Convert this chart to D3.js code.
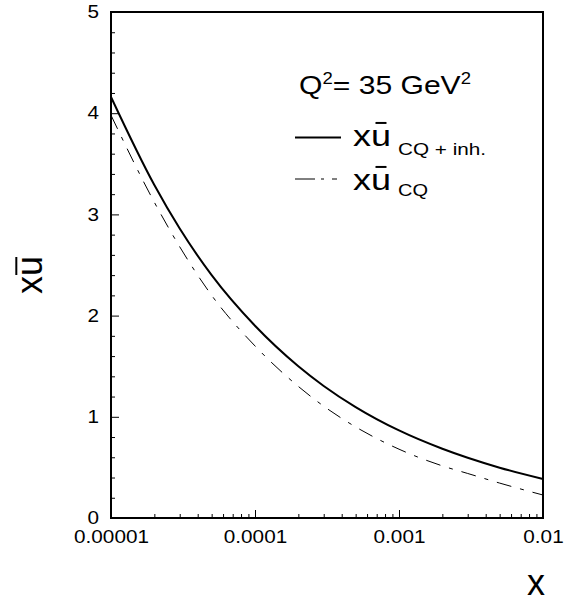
<!DOCTYPE html>
<html>
<head>
<meta charset="utf-8">
<script src="https://cdn.jsdelivr.net/npm/d3@7"></script>
<style>
  body { margin: 0; background: #fff; }
  svg { display: block; font-family: 'Liberation Sans', Arial, sans-serif; }
</style>
</head>
<body>
<svg width="576" height="604"></svg>
<script>
const xValues = [0.00001, 0.00002, 0.00003, 0.00005, 0.0001, 0.0002, 0.0003, 0.0005, 0.001, 0.002, 0.003, 0.005, 0.01];
// x ubar, constituent quarks + inhomogeneous term (solid)
const ubarInh = [4.16, 3.29, 2.86, 2.40, 1.90, 1.50, 1.305, 1.096, 0.865, 0.684, 0.595, 0.497, 0.385];
// x ubar, constituent quarks only (dash-dot)
const ubarCQ = [3.98, 3.12, 2.68, 2.20, 1.70, 1.30, 1.105, 0.90, 0.68, 0.515, 0.44, 0.345, 0.227];

const yTicks = [0, 1, 2, 3, 4, 5];
const xTicks = [0.00001, 0.0001, 0.001, 0.01];
const xTickLabels = ['0.00001', '0.0001', '0.001', '0.01'];

// settings
const config = {
  plot: { left: 111, right: 543, top: 12, bottom: 518 },
  tick: { major: 8, minor: 4 },
  font: { tick: 18, legend: 26, xu: 29, sub: 16, title: 36 },
  dash: '15,9,4,9',
};

plot();

function plot() {
  const svg = d3.select('svg');
  const p = config.plot;

  const x = d3.scaleLog().domain([0.00001, 0.01]).range([p.left, p.right]);
  const y = d3.scaleLinear().domain([0, 5]).range([p.bottom, p.top]);

  // minor ticks
  const yMinor = d3.range(0, 5.001, 0.2).filter(v => Math.abs(v - Math.round(v)) > 1e-6);
  const xMinor = [];
  [-5, -4, -3].forEach(e => {
    for (let m = 2; m <= 9; m++) xMinor.push(m * Math.pow(10, e));
  });

  svg.append('g')
    .attr('transform', `translate(${p.left},0)`)
    .call(d3.axisLeft(y).tickValues(yMinor).tickSize(-config.tick.minor).tickFormat(''))
    .call(g => g.select('.domain').remove());

  svg.append('g')
    .attr('transform', `translate(0,${p.bottom})`)
    .call(d3.axisBottom(x).tickValues(xMinor).tickSize(-config.tick.minor).tickFormat(''))
    .call(g => g.select('.domain').remove());

  // major ticks + labels
  svg.append('g')
    .attr('transform', `translate(${p.left},0)`)
    .call(d3.axisLeft(y).tickValues(yTicks).tickSize(-config.tick.major).tickPadding(12).tickFormat(d3.format('d')))
    .call(g => g.select('.domain').remove());

  svg.append('g')
    .attr('transform', `translate(0,${p.bottom})`)
    .call(d3.axisBottom(x).tickValues(xTicks).tickSize(-config.tick.major).tickPadding(12)
      .tickFormat((d, i) => xTickLabels[i]))
    .call(g => g.select('.domain').remove());

  svg.selectAll('.tick line').attr('stroke', '#000').attr('stroke-width', 1);
  svg.selectAll('.tick text')
    .attr('fill', '#000')
    .attr('font-size', config.font.tick)
    .attr('font-family', "'Liberation Sans', Arial, sans-serif")
    .each(function () { stretch(d3.select(this), this.getComputedTextLength() * 1.15); });

  // curves
  const line = d3.line()
    .x(d => x(d[0]))
    .y(d => y(d[1]))
    .curve(d3.curveMonotoneX);

  svg.append('path')
    .datum(xValues.map((v, i) => [v, ubarCQ[i]]))
    .attr('d', line)
    .attr('fill', 'none')
    .attr('stroke', '#000')
    .attr('stroke-width', 1)
    .attr('stroke-dasharray', config.dash);

  svg.append('path')
    .datum(xValues.map((v, i) => [v, ubarInh[i]]))
    .attr('d', line)
    .attr('fill', 'none')
    .attr('stroke', '#000')
    .attr('stroke-width', 2);

  // frame
  svg.append('rect')
    .attr('x', p.left)
    .attr('y', p.top)
    .attr('width', p.right - p.left)
    .attr('height', p.bottom - p.top)
    .attr('fill', 'none')
    .attr('stroke', '#000')
    .attr('stroke-width', 2);

  // legend header
  const q = svg.append('text')
    .attr('x', 299)
    .attr('y', 94)
    .attr('font-size', config.font.legend);
  q.append('tspan').text('Q');
  q.append('tspan').text('2').attr('font-size', 16).attr('dy', -10);
  q.append('tspan').text('= 35 GeV').attr('dy', 10);
  q.append('tspan').text('2').attr('font-size', 16).attr('dy', -10);
  stretch(q, 172);

  // legend entries
  const entries = [
    { label: 'CQ + inh.', dash: null, width: 2, y: 137.5, base: 146, sub: 9, subWidth: 88 },
    { label: 'CQ', dash: '20,6,3,8,5', width: 1, y: 179, base: 190, sub: 6, subWidth: 30 },
  ];
  entries.forEach(e => {
    svg.append('line')
      .attr('x1', 295).attr('x2', 341)
      .attr('y1', e.y).attr('y2', e.y)
      .attr('stroke', '#000')
      .attr('stroke-width', e.width)
      .attr('stroke-dasharray', e.dash);
    const t = svg.append('text')
      .attr('x', 353)
      .attr('y', e.base)
      .attr('font-size', config.font.xu)
      .text('xu');
    stretch(t, 38);
    ubar(svg, t, 8, 11);
    const s = svg.append('text')
      .attr('x', 398)
      .attr('y', e.base + e.sub)
      .attr('font-size', config.font.sub)
      .text(e.label);
    stretch(s, e.subWidth);
  });

  // axis titles
  svg.append('text')
    .attr('x', 527)
    .attr('y', 595)
    .attr('font-size', config.font.title)
    .text('x');

  const yTitle = svg.append('g')
    .attr('transform', 'translate(42,275) rotate(-90)');
  const yt = yTitle.append('text')
    .attr('text-anchor', 'middle')
    .attr('font-size', config.font.title)
    .text('xu');
  ubar(yTitle, yt, 7, 18);
}

// stretch a text horizontally to a given width
function stretch(sel, w) {
  sel.attr('textLength', w).attr('lengthAdjust', 'spacingAndGlyphs');
}

// draws the bar over the "u" (second character) of a text element
function ubar(parent, textSel, gap, len) {
  const box = textSel.node().getExtentOfChar(1);
  const fs = +textSel.attr('font-size');
  const base = +(textSel.attr('y') || 0);
  const top = base - fs * 0.519 - gap;
  const cx = box.x + box.width / 2;
  parent.append('line')
    .attr('x1', cx - len / 2).attr('x2', cx + len / 2)
    .attr('y1', top).attr('y2', top)
    .attr('stroke', '#000')
    .attr('stroke-width', 2);
}
</script>
</body>
</html>
